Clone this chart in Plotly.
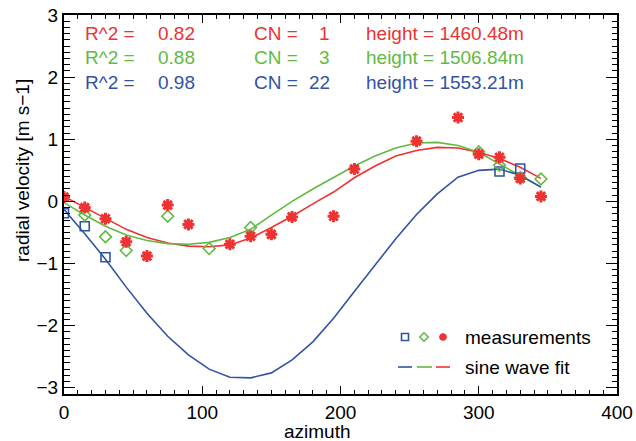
import plotly.graph_objects as go

# ---------------- data ----------------
azimuth = [0, 15, 30, 45, 60, 75, 90, 105, 120, 135, 150, 165,
           180, 195, 210, 225, 240, 255, 270, 285, 300, 315, 330, 345]

# measurements (None = no measurement shown)
meas_cn1 = [0.07, -0.10, -0.28, -0.65, -0.88, -0.06, -0.37, None, -0.69, -0.56, -0.53, -0.25,
            None, -0.24, 0.52, None, None, 0.97, None, 1.35, 0.76, 0.71, 0.37, 0.08]
meas_cn3 = [None, -0.22, -0.57, -0.79, None, -0.24, None, -0.76, None, -0.42, None, None,
            None, None, None, None, None, None, None, None, 0.80, 0.58, 0.38, 0.36]
meas_cn22 = [-0.19, -0.40, -0.90, None, None, None, None, None, None, None, None, None,
             None, None, None, None, None, None, None, None, None, 0.48, 0.53, None]

# sine wave fits
fit_cn1 = [0.08, -0.10, -0.28, -0.45, -0.58, -0.67, -0.72, -0.73, -0.70, -0.59, -0.42, -0.24,
           -0.04, 0.15, 0.38, 0.57, 0.73, 0.82, 0.87, 0.86, 0.79, 0.69, 0.55, 0.37]
fit_cn3 = [-0.02, -0.22, -0.40, -0.54, -0.63, -0.68, -0.69, -0.66, -0.58, -0.45, -0.22, 0.00,
           0.20, 0.38, 0.57, 0.73, 0.86, 0.94, 0.95, 0.90, 0.79, 0.60, 0.42, 0.23]
fit_cn22 = [-0.13, -0.52, -0.93, -1.38, -1.80, -2.17, -2.47, -2.70, -2.83, -2.84, -2.76, -2.55,
            -2.26, -1.88, -1.45, -1.03, -0.60, -0.21, 0.12, 0.39, 0.50, 0.52, 0.42, 0.23]

r2_values = ["0.82", "0.88", "0.98"]
cn_values = ["1", "3", "22"]
heights = ["1460.48m", "1506.84m", "1553.21m"]

x_range = [0, 400]
y_range = [-3.1, 3]
x_ticks = [0, 100, 200, 300, 400]
y_ticks = [-3, -2, -1, 0, 1, 2, 3]

# ---------------- style ----------------
RED = "rgb(238,50,50)"
GREEN = "rgb(98,186,66)"
BLUE = "rgb(50,82,164)"
FONT = "Liberation Sans, Arial, Helvetica, sans-serif"
FS = 19

W, H = 636, 441
# plot area in window pixels: left 64, top 15, right 617, bottom 394
L, T, R, B = 64, 15, 636 - 617, 441 - 394
PW, PH = W - L - R, H - T - B


def px(xp):  # window pixel -> paper
    return (xp - L) / PW


def py(yp):
    return (H - B - yp) / PH


fig = go.Figure()

# fits
for vals, col in [(fit_cn1, RED), (fit_cn3, GREEN), (fit_cn22, BLUE)]:
    fig.add_trace(go.Scatter(x=azimuth, y=vals, mode="lines",
                             line=dict(color=col, width=1.6), showlegend=False,
                             hoverinfo="skip"))

# measurements
fig.add_trace(go.Scatter(x=azimuth, y=meas_cn22, mode="markers",
                         marker=dict(symbol="square-open", size=9, color=BLUE,
                                     line=dict(width=1.6, color=BLUE)),
                         showlegend=False))
fig.add_trace(go.Scatter(x=azimuth, y=meas_cn3, mode="markers",
                         marker=dict(symbol="diamond-open", size=9, color=GREEN,
                                     line=dict(width=1.6, color=GREEN)),
                         showlegend=False))
fig.add_trace(go.Scatter(x=azimuth, y=meas_cn1, mode="markers",
                         marker=dict(symbol="asterisk-open", size=10, color=RED,
                                     line=dict(width=3, color=RED)),
                         showlegend=False))

# empty trace so the mirrored (top/right) tick axes get drawn
fig.add_trace(go.Scatter(x=[None], y=[None], xaxis="x2", yaxis="y2", mode="markers",
                         showlegend=False, hoverinfo="skip"))

# ---------------- hand-drawn legend (pixel positions -> paper) ----------------
shapes = []
ym, yf = 337, 367
s = 3.5
shapes.append(dict(type="rect", x0=px(405 - s), x1=px(405 + s), y0=py(ym + s), y1=py(ym - s),
                   line=dict(color=BLUE, width=1.6)))
d = 4.2
cx = 424
shapes.append(dict(type="path",
                   path=f"M {px(cx - d)} {py(ym)} L {px(cx)} {py(ym - d)} L {px(cx + d)} {py(ym)} "
                        f"L {px(cx)} {py(ym + d)} Z",
                   line=dict(color=GREEN, width=1.6)))
cx, a = 443, 3.8
b = a * 0.707
shapes.append(dict(type="path",
                   path=f"M {px(cx - a)} {py(ym)} L {px(cx + a)} {py(ym)} "
                        f"M {px(cx)} {py(ym - a)} L {px(cx)} {py(ym + a)} "
                        f"M {px(cx - b)} {py(ym - b)} L {px(cx + b)} {py(ym + b)} "
                        f"M {px(cx - b)} {py(ym + b)} L {px(cx + b)} {py(ym - b)}",
                   line=dict(color=RED, width=2.5)))
for x0, x1, col in [(398, 412, BLUE), (417, 432, GREEN), (436, 450, RED)]:
    shapes.append(dict(type="line", x0=px(x0), x1=px(x1), y0=py(yf), y1=py(yf),
                       line=dict(color=col, width=1.6)))
for sh in shapes:
    sh.update(xref="paper", yref="paper")

annotations = [
    dict(text="measurements", x=px(463), y=py(ym), xanchor="left", yanchor="middle",
         font=dict(color="black")),
    dict(text="sine wave fit", x=px(463), y=py(yf), xanchor="left", yanchor="middle",
         font=dict(color="black")),
]
row_y = [33, 57, 82]
for i, col in enumerate([RED, GREEN, BLUE]):
    yy = py(row_y[i])
    annotations += [
        dict(text="R^2 =", x=px(83), y=yy, xanchor="left", yanchor="middle", font=dict(color=col)),
        dict(text=r2_values[i], x=px(197), y=yy, xanchor="right", yanchor="middle", font=dict(color=col)),
        dict(text="CN =", x=px(252), y=yy, xanchor="left", yanchor="middle", font=dict(color=col)),
        dict(text=cn_values[i], x=px(332), y=yy, xanchor="right", yanchor="middle", font=dict(color=col)),
        dict(text="height = " + heights[i], x=px(364), y=yy, xanchor="left", yanchor="middle",
             font=dict(color=col)),
    ]
annotations += [
    dict(text="azimuth", x=px(317.5), y=py(431), xanchor="center", yanchor="middle",
         font=dict(color="black")),
    dict(text="radial velocity [m s\u22121]", x=px(22), y=py(171), xanchor="center", yanchor="middle",
         textangle=-90, font=dict(color="black")),
]
for a_ in annotations:
    a_.update(xref="paper", yref="paper", showarrow=False)
    a_["font"].update(family=FONT, size=FS)

xcommon = dict(range=x_range, tickvals=x_ticks, ticks="inside", ticklen=8, tickwidth=1.2,
               tickcolor="black", showline=True, linecolor="black", linewidth=2,
               showgrid=False, zeroline=False, ticklabeloverflow="allow",
               minor=dict(ticks="inside", tickvals=list(range(0, 401, 10)), ticklen=4,
                          tickwidth=1, tickcolor="black", showgrid=False),
               tickfont=dict(size=FS, color="black"))
ycommon = dict(range=y_range, tickvals=y_ticks, ticks="inside", ticklen=11, tickwidth=1.2,
               tickcolor="black", showline=True, linecolor="black", linewidth=2,
               showgrid=False, zeroline=False, ticklabeloverflow="allow",
               minor=dict(ticks="inside", tickvals=[round(-3.1 + 0.1 * k, 1) for k in range(62)],
                          ticklen=5.5, tickwidth=1, tickcolor="black", showgrid=False),
               tickfont=dict(size=FS, color="black"))

fig.update_layout(
    width=W, height=H, autosize=False,
    margin=dict(l=L, r=R, t=T, b=B, pad=0, autoexpand=False),
    paper_bgcolor="white", plot_bgcolor="white",
    font=dict(family=FONT, size=FS, color="black"),
    showlegend=False,
    hovermode=False,
    annotations=annotations,
    shapes=shapes,
    xaxis=dict(**xcommon),
    yaxis=dict(**ycommon),
    xaxis2=dict(**xcommon, overlaying="x", side="top", anchor="y", showticklabels=False),
    yaxis2=dict(**ycommon, overlaying="y", side="right", anchor="x", showticklabels=False),
)

# remove the default page margin so the figure sits at the window origin
fig.write_html("out.html", config={"displayModeBar": False},
               post_script="document.body.style.margin='0';")
